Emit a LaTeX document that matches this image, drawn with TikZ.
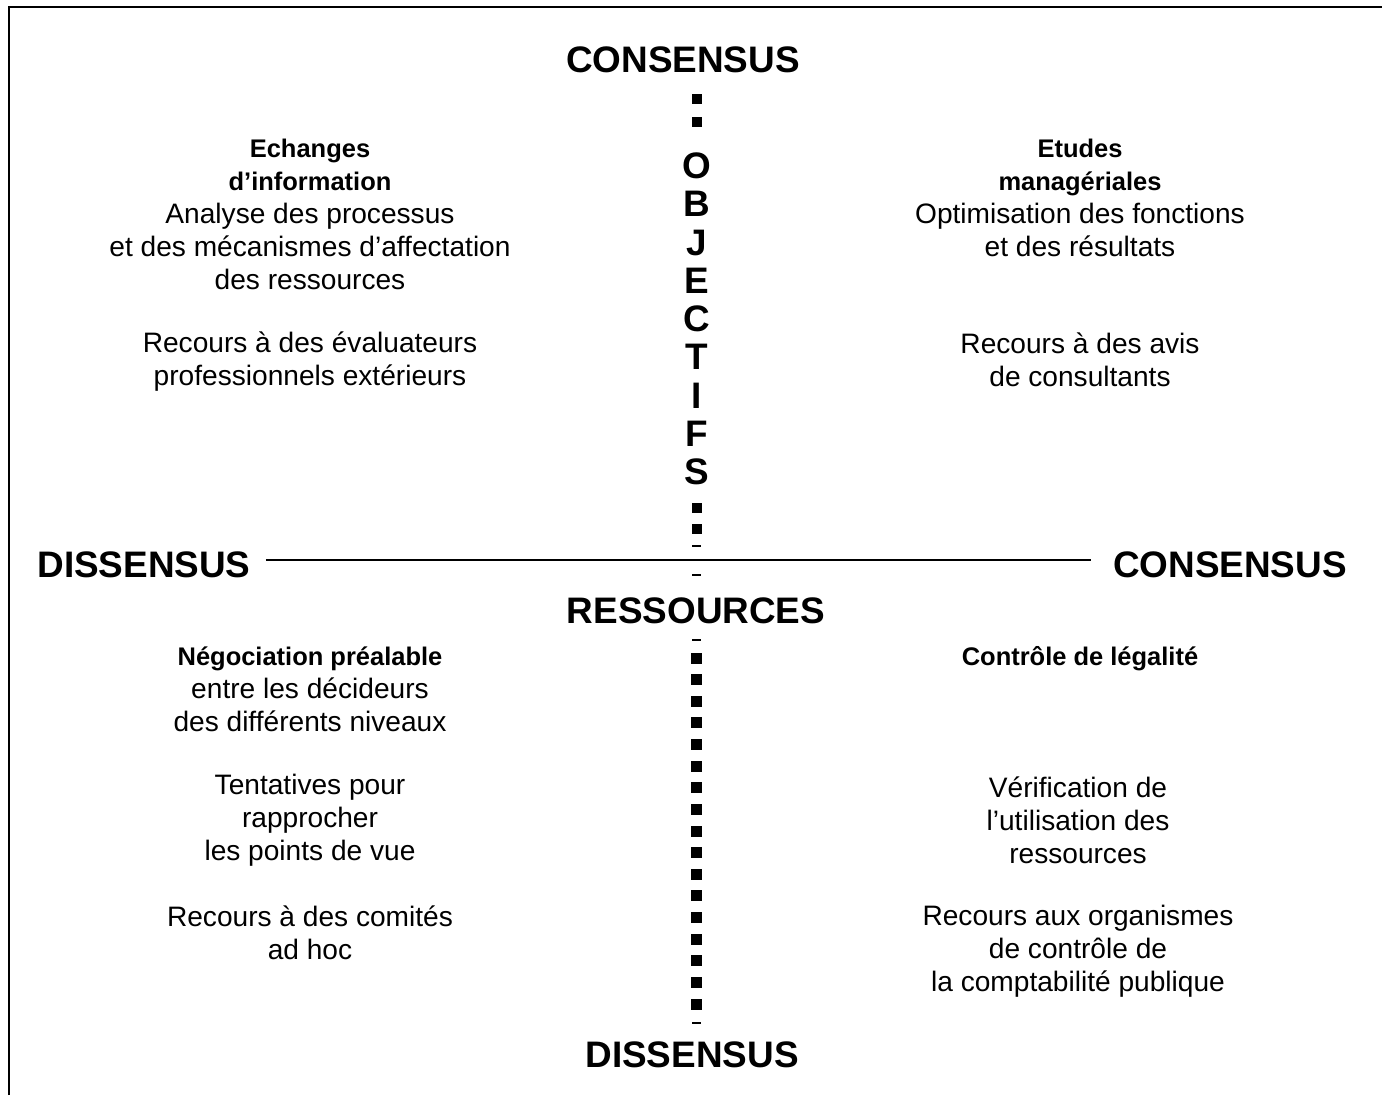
\documentclass[tikz,border=0pt]{standalone}
\usepackage{fontspec}
\setmainfont{Liberation Sans}
\usetikzlibrary{positioning}

\newcommand{\qhead}[1]{{\fontsize{14.5}{18.8}\selectfont\bfseries #1}}

\begin{document}
\begin{tikzpicture}[x=0.02cm, y=-0.02cm,
                axislabel/.style={font=\fontsize{21}{25}\selectfont\bfseries, inner sep=0pt},
                entry/.style={align=center, font=\fontsize{16}{18.8}\selectfont, inner sep=0pt},
                frame/.style={line width=1.1pt},
                axis/.style={line width=0.8pt}]

                \useasboundingbox (0,0) rectangle (1382,1095);

                % Frame (left and top)
                \draw[frame] (9,1095) -- (9,7) -- (1382,7);

                % Axis labels
                \node[axislabel] (ctop) at (683,60) {CONSENSUS};
                \node[axislabel] (dleft) at (144,565) {DISSENSUS};
                \node[axislabel] (cright) at (1230,565) {CONSENSUS};
                \node[axislabel] (ress) at (696,611) {RESSOURCES};
                \node[axislabel] (dbot) at (692,1055) {DISSENSUS};

                % Vertical axis: objectifs
                \foreach \l [count=\i from 0] in {O,B,J,E,C,T,I,F,S}
                    \node[axislabel] (obj\i) at (697,{166+38.25*\i}) {\l};
                \foreach \y in {99,122,508,529}
                    \fill (691.5,\y-5) rectangle ++(10,10);
                \foreach \i in {0,...,16}
                    \fill (690.5,{658+21.625*\i-5.5}) rectangle ++(11,11);
                \foreach \y in {546,575,640,1023}
                    \fill (692,\y-1.2) rectangle ++(9,2.5);

                % Horizontal axis
                \draw[axis] ([xshift=0.3cm]dleft.east |- 0,560) -- ([xshift=-0.44cm]cright.west |- 0,560);

                % Upper left
                \node[entry] (tl1) at (310,214) {\qhead{Echanges}\\ \qhead{d'information}\\ Analyse des processus\\ et des mécanismes d'affectation\\ des ressources};
                \node[entry] (tl2) at (310,362) {Recours à des évaluateurs\\ professionnels extérieurs};

                % Upper right
                \node[entry] (tr1) at (1080,198) {\qhead{Etudes}\\ \qhead{managériales}\\ Optimisation des fonctions\\ et des résultats};
                \node[entry] (tr2) at (1080,360) {Recours à des avis\\ de consultants};

                % Lower left
                \node[entry] (bl1) at (310,689) {\qhead{Négociation préalable}\\ entre les décideurs\\ des différents niveaux};
                \node[entry] (bl2) at (310,820) {Tentatives pour\\ rapprocher\\ les points de vue};
                \node[entry] (bl3) at (310,933) {Recours à des comités\\ ad hoc};

                % Lower right
                \node[entry] (br1) at (1080,659) {\qhead{Contrôle de légalité}};
                \node[entry] (br2) at (1078,820) {Vérification de\\ l'utilisation des\\ ressources};
                \node[entry] (br3) at (1078,951) {Recours aux organismes\\ de contrôle de\\ la comptabilité publique};
            \end{tikzpicture}
\end{document}
